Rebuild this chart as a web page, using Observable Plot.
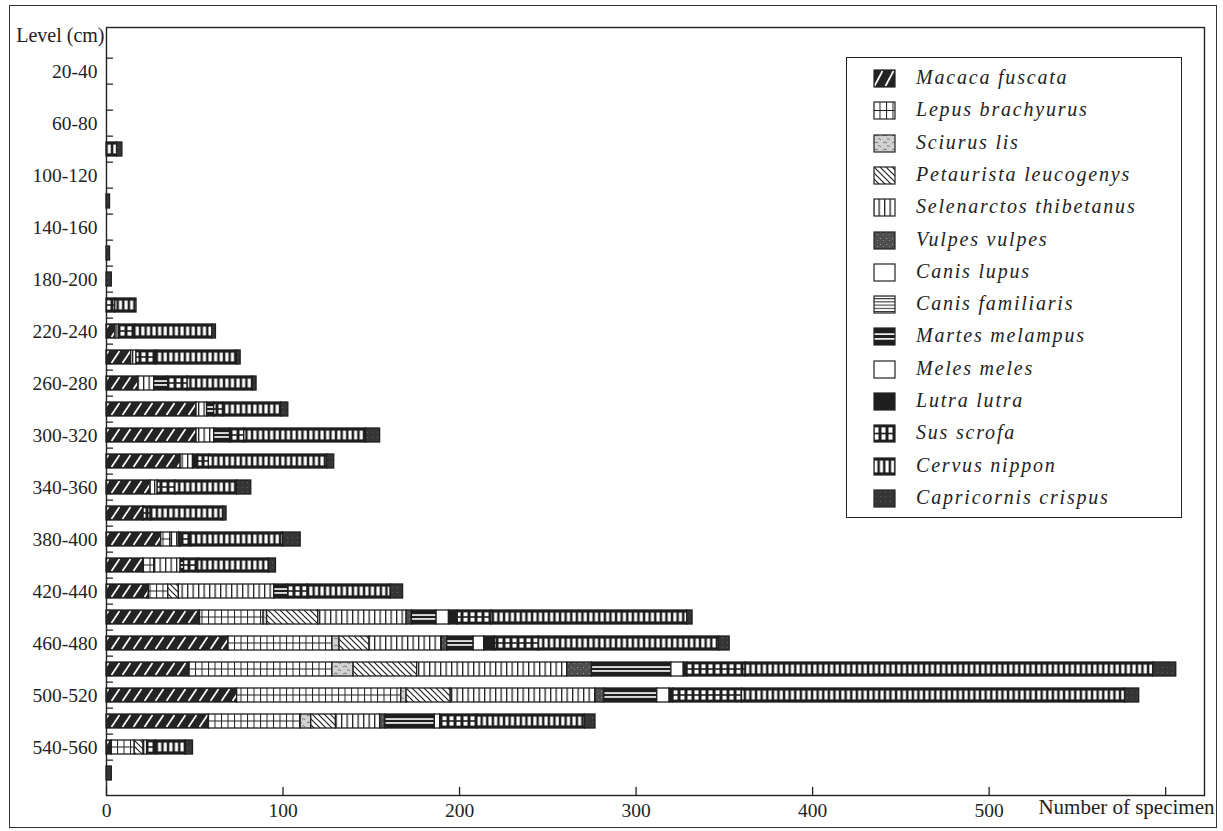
<!DOCTYPE html>
<html><head><meta charset="utf-8">
<script src="https://cdn.jsdelivr.net/npm/d3@7"></script>
<script src="https://cdn.jsdelivr.net/npm/@observablehq/plot@0.6"></script>
<style>
body{margin:0;background:#fff;}
#wrap{position:relative;width:1223px;height:831px;font-family:"Liberation Serif","Times New Roman",serif;color:#222;}
#border{position:absolute;left:9px;top:5px;width:1208px;height:823px;border:1.5px solid #333;box-sizing:border-box;}
#chart{position:absolute;left:0;top:0;}
#legend{position:absolute;left:846px;top:57px;width:336px;height:461px;border:1.4px solid #222;box-sizing:border-box;background:#fff;}
.item{position:absolute;left:0;height:32px;width:330px;}
.item svg{position:absolute;left:26px;top:7px;}
.item span{position:absolute;left:69px;top:4px;font-style:italic;font-size:20px;letter-spacing:1.8px;white-space:nowrap;}
</style></head>
<body>
<svg id="defsHost" width="0" height="0" style="position:absolute;left:0;top:0"><defs id="defs"></defs></svg>
<div id="wrap"><div id="border"></div><div id="chart"></div><div id="legend"></div></div>
<script>
// ---------- data ----------
const levels = ["0-20","20-40","40-60","60-80","80-100","100-120","120-140","140-160","160-180","180-200",
  "200-220","220-240","240-260","260-280","280-300","300-320","320-340","340-360","360-380","380-400",
  "400-420","420-440","440-460","460-480","480-500","500-520","520-540","540-560","560-580"];
const species = ["Macaca fuscata","Lepus brachyurus","Sciurus lis","Petaurista leucogenys","Selenarctos thibetanus",
  "Vulpes vulpes","Canis lupus","Canis familiaris","Martes melampus","Meles meles","Lutra lutra","Sus scrofa",
  "Cervus nippon","Capricornis crispus"];
const patternKeys = ["mac","lep","sci","pet","sel","vul","lup","fam","mar","mel","lut","sus","cer","cap"];

const macaca      = [0,0,0,0,0,0,0,0,0,0,0,5,14,18,51,51,42,25,21,31,21,24,53,69,47,74,58,3,0];
const lepus       = [0,0,0,0,0,0,0,0,0,0,0,0,0,0,0,0,0,0,0,6,6,11,36,59,81,93,52,13,0];
const sciurus     = [0,0,0,0,0,0,0,0,0,0,0,0,0,0,0,0,0,0,0,0,0,0,2,4,12,3,6,0,0];
const petaurista  = [0,0,0,0,0,0,0,0,0,0,0,0,0,0,0,0,0,0,0,0,0,6,29,17,36,25,14,5,0];
const selenarctos = [0,0,0,0,0,0,0,0,0,0,0,2,3,9,6,10,7,4,0,4,15,54,50,41,85,82,25,2,0];
const vulpes      = [0,0,0,0,0,0,0,0,0,0,0,0,0,0,0,0,0,0,0,0,0,0,3,3,14,5,3,0,0];
const canisLupus  = [0,0,0,0,0,0,0,0,0,0,0,0,0,0,0,0,0,0,0,0,0,0,0,0,0,0,0,0,0];
const canisFamil  = [0,0,0,0,0,0,0,0,0,0,0,0,0,0,0,0,0,0,0,0,0,0,0,0,0,0,0,0,0];
const martes      = [0,0,0,0,0,0,0,0,0,0,0,0,0,8,4,9,0,0,0,0,2,8,14,15,45,30,28,0,0];
const meles       = [0,0,0,0,0,0,0,0,0,0,0,0,0,0,0,0,0,0,0,0,0,0,7,6,7,7,3,0,0];
const lutra       = [0,0,0,0,0,0,0,0,0,0,0,0,0,0,0,0,3,0,0,1,0,0,5,6,2,2,0,0,0];
const sus         = [0,0,0,0,0,0,0,0,0,0,5,9,11,11,5,8,6,10,4,6,8,11,19,25,33,39,21,5,0];
const cervus      = [0,0,0,0,6,0,0,0,0,0,12,44,46,37,33,69,67,35,41,52,40,47,111,102,231,217,61,17,0];
const capricornis = [0,0,0,0,3,0,2,0,2,3,0,2,2,2,4,8,4,8,2,10,4,7,3,6,13,8,6,4,3];
const seriesValues = [macaca,lepus,sciurus,petaurista,selenarctos,vulpes,canisLupus,canisFamil,martes,meles,lutra,sus,cervus,capricornis];

const xTicks = [0,100,200,300,400,500,600];
const yLabelTicks = levels.filter((d,i) => i % 2 === 1);

// ---------- table ----------
const rows = [];
levels.forEach((lv, li) => species.forEach((sp, si) => {
  const v = seriesValues[si][li];
  if (v > 0) rows.push({level: lv, species: sp, key: patternKeys[si], count: v});
}));

// ---------- patterns ----------
const NS = "http://www.w3.org/2000/svg";
function el(tag, attrs, parent){const e=document.createElementNS(NS,tag);for(const k in attrs)e.setAttribute(k,attrs[k]);if(parent)parent.appendChild(e);return e;}
function pat(defs,id,w,h,y0,draw){const p=el("pattern",{id,patternUnits:"userSpaceOnUse",x:0,y:y0,width:w,height:h},defs);draw(p);}
function buildPatterns(defs, pre, y0, step, bh){
  pat(defs,pre+"mac",11,step,y0,p=>{el("rect",{x:0,y:0,width:11,height:bh,fill:"#242424"},p);
    el("line",{x1:1.5,y1:bh-1,x2:9.5,y2:1,stroke:"#fff","stroke-width":1.7},p);});
  pat(defs,pre+"lep",6.5,step,y0,p=>{el("rect",{x:0,y:0,width:6.5,height:bh,fill:"#fff"},p);
    el("rect",{x:0,y:0,width:1,height:bh,fill:"#222"},p);
    el("rect",{x:0,y:bh/2-0.5,width:6.5,height:1,fill:"#222"},p);});
  pat(defs,pre+"sci",9,7,0,p=>{el("rect",{x:0,y:0,width:9,height:7,fill:"#d2d2d2"},p);
    el("path",{d:"M1 2 q2 -2 4 0 M5 5 q2 -1 3 1",stroke:"#6a6a6a","stroke-width":0.9,fill:"none"},p);});
  pat(defs,pre+"pet",6,6,0,p=>{el("rect",{x:0,y:0,width:6,height:6,fill:"#fff"},p);
    el("path",{d:"M0 0 L6 6 M-1 5 L1 7 M5 -1 L7 1",stroke:"#222","stroke-width":1.2},p);});
  pat(defs,pre+"sel",5.5,10,0,p=>{el("rect",{x:0,y:0,width:5.5,height:10,fill:"#fff"},p);
    el("rect",{x:0,y:0,width:1.3,height:10,fill:"#222"},p);});
  pat(defs,pre+"vul",6,6,0,p=>{el("rect",{x:0,y:0,width:6,height:6,fill:"#4e4e4e"},p);
    el("rect",{x:1,y:1,width:1,height:1,fill:"#9a9a9a"},p);el("rect",{x:4,y:3,width:1,height:1,fill:"#8a8a8a"},p);});
  pat(defs,pre+"fam",5,3.2,0,p=>{el("rect",{x:0,y:0,width:5,height:3.2,fill:"#fff"},p);
    el("rect",{x:0,y:0,width:5,height:1,fill:"#222"},p);});
  pat(defs,pre+"mar",8,step,y0,p=>{el("rect",{x:0,y:0,width:8,height:bh,fill:"#1e1e1e"},p);
    el("rect",{x:0,y:bh*0.36-0.8,width:8,height:1.6,fill:"#fff"},p);
    el("rect",{x:0,y:bh*0.64-0.8,width:8,height:1.6,fill:"#fff"},p);});
  pat(defs,pre+"sus",7,step,y0,p=>{el("rect",{x:0,y:0,width:7,height:bh,fill:"#1e1e1e"},p);
    el("rect",{x:1.5,y:2.4,width:4,height:bh/2-3.2,fill:"#fff"},p);
    el("rect",{x:1.5,y:bh/2+0.8,width:4,height:bh/2-3.2,fill:"#fff"},p);});
  pat(defs,pre+"cer",5.6,step,y0,p=>{el("rect",{x:0,y:0,width:5.6,height:bh,fill:"#1e1e1e"},p);
    el("rect",{x:1.3,y:2.6,width:3.1,height:bh-5.2,fill:"#fff"},p);});
  pat(defs,pre+"cap",5,5,0,p=>{el("rect",{x:0,y:0,width:5,height:5,fill:"#353535"},p);
    el("rect",{x:2,y:2,width:1,height:1,fill:"#5e5e5e"},p);});
}
function fillFor(pre, key){
  if (key === "lup" || key === "mel") return "#ffffff";
  if (key === "lut") return "#1e1e1e";
  return `url(#${pre}${key})`;
}

// ---------- chart ----------
const yRange = [23.5, 794];
const yStep = (yRange[1] - yRange[0]) / levels.length;
const tickShape = {draw(ctx, l){ ctx.moveTo(0,0); ctx.lineTo(0,-l); }};

const chart = Plot.plot({
  width: 1223, height: 831,
  marginLeft: 106, marginRight: 19, marginTop: 27, marginBottom: 36,
  style: {background: "transparent", fontFamily: "'Liberation Serif', 'Times New Roman', serif", fontSize: "19px", color: "#222"},
  x: {domain: [0, 622]},
  y: {domain: levels, range: yRange, paddingInner: 0.46, paddingOuter: 0.23},
  color: {type: "identity"},
  marks: [
    Plot.barX(rows, Plot.stackX({x: "count", y: "level", fill: d => fillFor("p-", d.key), stroke: "#1e1e1e", strokeWidth: 1.3})),
    Plot.frame({stroke: "#222", strokeWidth: 1.4}),
    Plot.axisY({ticks: yLabelTicks, tickSize: 0, tickPadding: 9, label: null, fontSize: 19.5}),
    Plot.axisX({ticks: xTicks, tickFormat: d => d === 600 ? "" : String(d), tickSize: 0, tickPadding: 8, label: null, fontSize: 19.5}),
    Plot.vector(xTicks, {x: d => d, frameAnchor: "bottom", rotate: 0, length: 8, anchor: "start", shape: tickShape, stroke: "#222", strokeWidth: 1.3}),
    Plot.vector(levels.slice(1), {y: d => d, frameAnchor: "left", rotate: 90, length: 6, anchor: "start", dy: -yStep/2, shape: tickShape, stroke: "#222", strokeWidth: 1.3}),
    Plot.text(["Level (cm)"], {frameAnchor: "top-left", textAnchor: "end", dx: -2, fontSize: 20}),
    Plot.text(["Number of specimen"], {frameAnchor: "bottom-right", textAnchor: "end", dx: 10, dy: 18, fontSize: 21})
  ]
});
document.getElementById("chart").appendChild(chart);

const defs = document.getElementById("defs");
const ys = chart.scale("y");
const y0 = ys.apply(levels[0]);
buildPatterns(defs, "p-", y0, ys.step, ys.bandwidth);
buildPatterns(defs, "l-", 1, 17, 17);

// ---------- legend ----------
const legend = document.getElementById("legend");
species.forEach((sp, i) => {
  const item = document.createElement("div");
  item.className = "item";
  item.style.top = (4 + i * 32.3) + "px";
  const sw = el("svg", {width: 24, height: 19});
  el("rect", {x: 1, y: 1, width: 21, height: 17, fill: fillFor("l-", patternKeys[i]), stroke: "#222", "stroke-width": 1.2}, sw);
  item.appendChild(sw);
  const t = document.createElement("span");
  t.textContent = sp;
  item.appendChild(t);
  legend.appendChild(item);
});
</script>
</body></html>
